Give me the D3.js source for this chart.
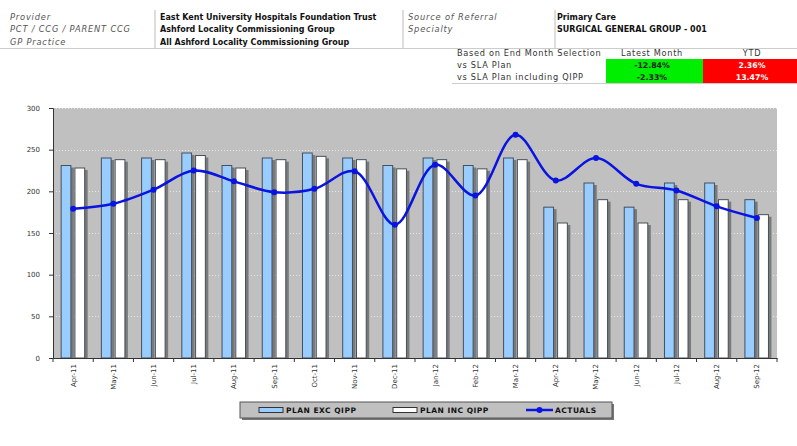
<!DOCTYPE html>
<html>
<head>
<meta charset="utf-8">
<script src="https://cdn.jsdelivr.net/npm/d3@7"></script>
<style>
  html, body { margin: 0; padding: 0; background: #fff; }
  svg { display: block; font-family: "DejaVu Sans", Verdana, sans-serif; }
</style>
</head>
<body>
<svg id="chart" width="797" height="446"></svg>
<script>
// Monthly activity: plan excluding QIPP, plan including QIPP, and actuals
const months = ["Apr-11","May-11","Jun-11","Jul-11","Aug-11","Sep-11","Oct-11","Nov-11","Dec-11",
                "Jan-12","Feb-12","Mar-12","Apr-12","May-12","Jun-12","Jul-12","Aug-12","Sep-12"];
const planExcQipp = [231,240,240,246,231,240,246,240,231,240,231,240,181,210,181,210,210,190];
const planIncQipp = [228,238,238,243,228,238,242,238,227,238,227,238,162,190,162,190,190,172];
const actuals     = [179,185,202,225,212,199,203,224,160,232,195,268,213,240,209,201,182,168];
const yTicks = [0,50,100,150,200,250,300];

// Header details
const headerLeft = [
  ["Provider", "East Kent University Hospitals Foundation Trust"],
  ["PCT / CCG / PARENT CCG", "Ashford Locality Commissioning Group"],
  ["GP Practice", "All Ashford Locality Commissioning Group"]
];
const headerRight = [
  ["Source of Referral", "Primary Care"],
  ["Specialty", "SURGICAL GENERAL GROUP - 001"]
];
const summaryCols = ["Based on End Month Selection", "Latest Month", "YTD"];
const summaryRows = ["vs SLA Plan", "vs SLA Plan including QIPP"];
const latestMonth = ["-12.84%", "-2.33%"];
const ytd = ["2.36%", "13.47%"];

const svg = d3.select("#chart");
const FONT = "DejaVu Sans, Verdana, sans-serif";

// ---------- header block ----------
const hdr = svg.append("g");
const rowY = [17, 29.5, 42];
hdr.selectAll("text.lbl").data(headerLeft).join("text")
  .attr("x", 10).attr("y", (d, i) => rowY[i]).attr("dy", "0.35em")
  .attr("font-size", 8.3).attr("letter-spacing", 0.8).attr("font-style", "italic").attr("fill", "#555")
  .text(d => d[0]);
hdr.selectAll("text.val").data(headerLeft).join("text")
  .attr("x", 160).attr("y", (d, i) => rowY[i]).attr("dy", "0.35em")
  .attr("font-size", 8).attr("font-weight", "bold").attr("fill", "#111")
  .text(d => d[1]);
hdr.selectAll("text.rlbl").data(headerRight).join("text")
  .attr("x", 408).attr("y", (d, i) => rowY[i]).attr("dy", "0.35em")
  .attr("font-size", 8.3).attr("letter-spacing", 0.8).attr("font-style", "italic").attr("fill", "#555")
  .text(d => d[0]);
hdr.selectAll("text.rval").data(headerRight).join("text")
  .attr("x", 557).attr("y", (d, i) => rowY[i]).attr("dy", "0.35em")
  .attr("font-size", 8).attr("font-weight", "bold").attr("fill", "#111")
  .text(d => d[1]);

// separators
hdr.append("line").attr("x1", 155).attr("x2", 155).attr("y1", 10).attr("y2", 48).attr("stroke", "#bbb");
hdr.append("line").attr("x1", 403).attr("x2", 403).attr("y1", 10).attr("y2", 48).attr("stroke", "#bbb");
hdr.append("line").attr("x1", 555).attr("x2", 555).attr("y1", 10).attr("y2", 48).attr("stroke", "#bbb");
hdr.append("line").attr("x1", 0).attr("x2", 797).attr("y1", 48.5).attr("y2", 48.5).attr("stroke", "#ccc");

// summary table
const sumRowY = [53, 65, 77];
const colX = [457, 652, 752];
hdr.selectAll("text.sh").data(summaryCols).join("text")
  .attr("x", (d, i) => colX[i]).attr("y", sumRowY[0]).attr("dy", "0.35em")
  .attr("text-anchor", (d, i) => i === 0 ? "start" : "middle")
  .attr("font-size", 8.2).attr("letter-spacing", 0.7).attr("fill", "#333")
  .text(d => d);
hdr.append("rect").attr("x", 606).attr("y", 59).attr("width", 97).attr("height", 24).attr("fill", "#00ee00");
hdr.append("rect").attr("x", 703).attr("y", 59).attr("width", 94).attr("height", 24).attr("fill", "#ff0000");
hdr.selectAll("text.sr").data(summaryRows).join("text")
  .attr("x", colX[0]).attr("y", (d, i) => sumRowY[i + 1]).attr("dy", "0.35em")
  .attr("font-size", 8.2).attr("letter-spacing", 0.7).attr("fill", "#333")
  .text(d => d);
hdr.selectAll("text.lm").data(latestMonth).join("text")
  .attr("x", colX[1]).attr("y", (d, i) => sumRowY[i + 1]).attr("dy", "0.35em")
  .attr("text-anchor", "middle").attr("font-size", 7.8).attr("font-weight", "bold").attr("fill", "#222")
  .text(d => d);
hdr.selectAll("text.ytd").data(ytd).join("text")
  .attr("x", colX[2]).attr("y", (d, i) => sumRowY[i + 1]).attr("dy", "0.35em")
  .attr("text-anchor", "middle").attr("font-size", 7.8).attr("font-weight", "bold").attr("fill", "#fff")
  .text(d => d);
hdr.append("line").attr("x1", 452).attr("x2", 797).attr("y1", 83.5).attr("y2", 83.5).attr("stroke", "#ccc");

// ---------- chart ----------
const plot = { left: 53, right: 777, top: 108, bottom: 358 };

const x = d3.scaleBand().domain(months).range([plot.left, plot.right]).padding(0);
const xSub = d3.scaleBand().domain(["exc", "inc"])
  .range([x.bandwidth() * 0.19, x.bandwidth() * 0.8]).paddingInner(0.22);
const y = d3.scaleLinear().domain([0, 300]).range([plot.bottom, plot.top]);

// plot background
svg.append("rect")
  .attr("x", plot.left).attr("y", plot.top)
  .attr("width", plot.right - plot.left).attr("height", plot.bottom - plot.top)
  .attr("fill", "#c0c0c0");

// dotted gridlines
svg.append("g").selectAll("line").data(yTicks.filter(v => v > 0)).join("line")
  .attr("x1", plot.left).attr("x2", plot.right)
  .attr("y1", d => Math.round(y(d)) + 0.5).attr("y2", d => Math.round(y(d)) + 0.5)
  .attr("stroke", "#e6e6e6").attr("stroke-width", 1).attr("stroke-dasharray", "1,2");

// bars with drop shadows
const series = [
  { key: "exc", values: planExcQipp, fill: "#99ccff" },
  { key: "inc", values: planIncQipp, fill: "#ffffff" }
];
const bars = svg.append("g");
series.forEach(s => {
  bars.append("g").selectAll("rect").data(s.values).join("rect")
    .attr("x", (d, i) => x(months[i]) + xSub(s.key) + 2.5)
    .attr("y", d => y(d) + 2)
    .attr("width", xSub.bandwidth())
    .attr("height", d => plot.bottom - y(d) - 2)
    .attr("fill", "#7a7a7a");
});
series.forEach(s => {
  bars.append("g").selectAll("rect").data(s.values).join("rect")
    .attr("x", (d, i) => x(months[i]) + xSub(s.key) + 0.5)
    .attr("y", d => y(d))
    .attr("width", xSub.bandwidth() - 1)
    .attr("height", d => plot.bottom - y(d))
    .attr("fill", s.fill)
    .attr("stroke", "#44505c").attr("stroke-width", 1);
});

// axes
const yAxis = svg.append("g").attr("transform", `translate(${plot.left},0)`)
  .call(d3.axisLeft(y).tickValues(yTicks).tickSize(4).tickPadding(9));
yAxis.select(".domain").attr("stroke", "#333");
yAxis.selectAll(".tick line").attr("stroke", "#333");
yAxis.selectAll("text").attr("font-size", 7).attr("fill", "#333").attr("font-family", FONT);

const xAxis = svg.append("g").attr("transform", `translate(0,${plot.bottom})`)
  .call(d3.axisBottom(x).tickSize(0).tickFormat(d => d));
xAxis.select(".domain").attr("stroke", "#333");
xAxis.selectAll(".tick text")
  .attr("font-size", 7).attr("fill", "#333")
  .attr("font-family", FONT)
  .attr("text-anchor", "end")
  .attr("transform", "rotate(-90)")
  .attr("x", -6).attr("y", 0).attr("dy", "0.35em");
// tick marks at category boundaries
svg.append("g").selectAll("line").data(months.concat(["end"])).join("line")
  .attr("x1", (d, i) => plot.left + i * x.step()).attr("x2", (d, i) => plot.left + i * x.step())
  .attr("y1", plot.bottom).attr("y2", plot.bottom + 4)
  .attr("stroke", "#333");

// actuals line
const line = d3.line()
  .x((d, i) => x(months[i]) + x.bandwidth() / 2)
  .y(d => y(d))
  .curve(d3.curveCatmullRom.alpha(0.5));
svg.append("path").datum(actuals)
  .attr("d", line).attr("fill", "none")
  .attr("stroke", "#0a14e0").attr("stroke-width", 2.5);
svg.append("g").selectAll("circle").data(actuals).join("circle")
  .attr("cx", (d, i) => x(months[i]) + x.bandwidth() / 2)
  .attr("cy", d => y(d))
  .attr("r", 3).attr("fill", "#0a14e0");

// ---------- legend ----------
const lg = svg.append("g");
lg.append("rect").attr("x", 242).attr("y", 404).attr("width", 372).attr("height", 16).attr("fill", "#777");
lg.append("rect").attr("x", 240).attr("y", 402).attr("width", 372).attr("height", 16)
  .attr("fill", "#c0c0c0").attr("stroke", "#555");
const legendItems = [
  { label: "PLAN EXC QIPP", type: "bar", fill: "#99ccff", x: 259 },
  { label: "PLAN INC QIPP", type: "bar", fill: "#ffffff", x: 393 },
  { label: "ACTUALS", type: "line", fill: "#0a14e0", x: 526 }
];
legendItems.forEach(it => {
  if (it.type === "bar") {
    lg.append("rect").attr("x", it.x).attr("y", 407.5).attr("width", 24).attr("height", 5)
      .attr("fill", it.fill).attr("stroke", "#333");
  } else {
    lg.append("line").attr("x1", it.x).attr("x2", it.x + 27).attr("y1", 410).attr("y2", 410)
      .attr("stroke", it.fill).attr("stroke-width", 2.5);
    lg.append("circle").attr("cx", it.x + 13.5).attr("cy", 410).attr("r", 3).attr("fill", it.fill);
  }
  lg.append("text").attr("x", it.x + (it.type === "bar" ? 27 : 29)).attr("y", 410).attr("dy", "0.35em")
    .attr("font-size", 7.5).attr("letter-spacing", 0.5).attr("font-weight", "bold").attr("fill", "#111")
    .text(it.label);
});
</script>
</body>
</html>
